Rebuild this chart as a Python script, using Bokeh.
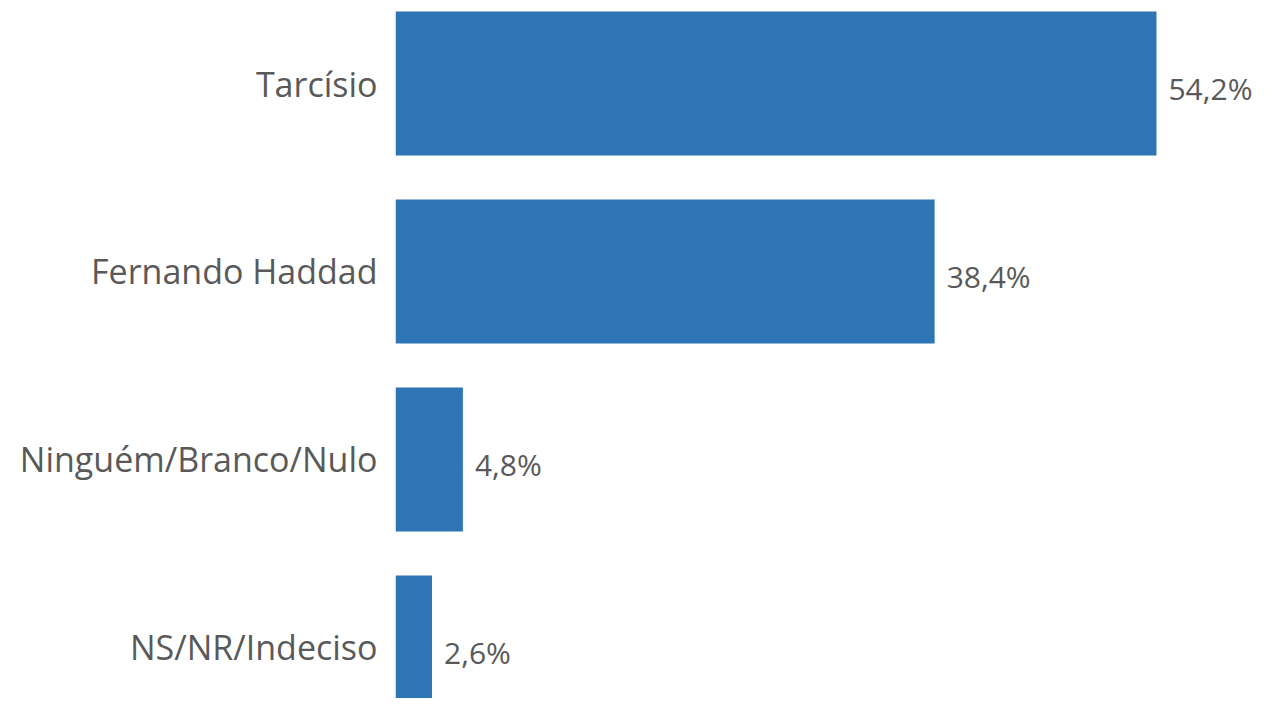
from bokeh.plotting import figure
from bokeh.models import Range1d, FixedTicker, ColumnDataSource
from bokeh.core.properties import value
from bokeh.embed import file_html
from bokeh.resources import INLINE

categories = ["Tarcísio", "Fernando Haddad", "Ninguém/Branco/Nulo", "NS/NR/Indeciso"]
values = [54.2, 38.4, 4.8, 2.6]

pos = list(range(len(categories)))
labels = [f"{v:.1f}%".replace(".", ",") for v in values]
src = ColumnDataSource(dict(y=pos, v=values, lab=labels))

FONT = "Open Sans"
GRAY = "#595959"

p = figure(width=1252, height=698, output_backend="svg", toolbar_location=None,
           x_range=Range1d(0, 61.04), y_range=Range1d(3.2713, -0.4415),
           min_border_left=395, min_border_right=0, min_border_top=0, min_border_bottom=0)
p.hbar(y="y", right="v", left=0, height=0.766, source=src, color="#2E75B6", line_color=None)
p.text(x="v", y="y", text="lab", source=src, x_offset=12, y_offset=5,
       text_baseline="middle", text_align="left", text_font=value(FONT),
       text_font_size="30px", text_color=GRAY)

p.xaxis.visible = False
p.yaxis.ticker = FixedTicker(ticks=pos)
p.yaxis.major_label_overrides = {i: c for i, c in zip(pos, categories)}
p.yaxis.axis_line_color = None
p.yaxis.major_tick_line_color = None
p.yaxis.minor_tick_line_color = None
p.yaxis.major_tick_out = 0
p.yaxis.major_tick_in = 0
p.yaxis.major_label_standoff = 18
p.yaxis.major_label_text_font = FONT
p.yaxis.major_label_text_font_size = "34px"
p.yaxis.major_label_text_color = GRAY
p.grid.visible = False
p.outline_line_color = None

open("out.html", "w").write(file_html(p, INLINE))
